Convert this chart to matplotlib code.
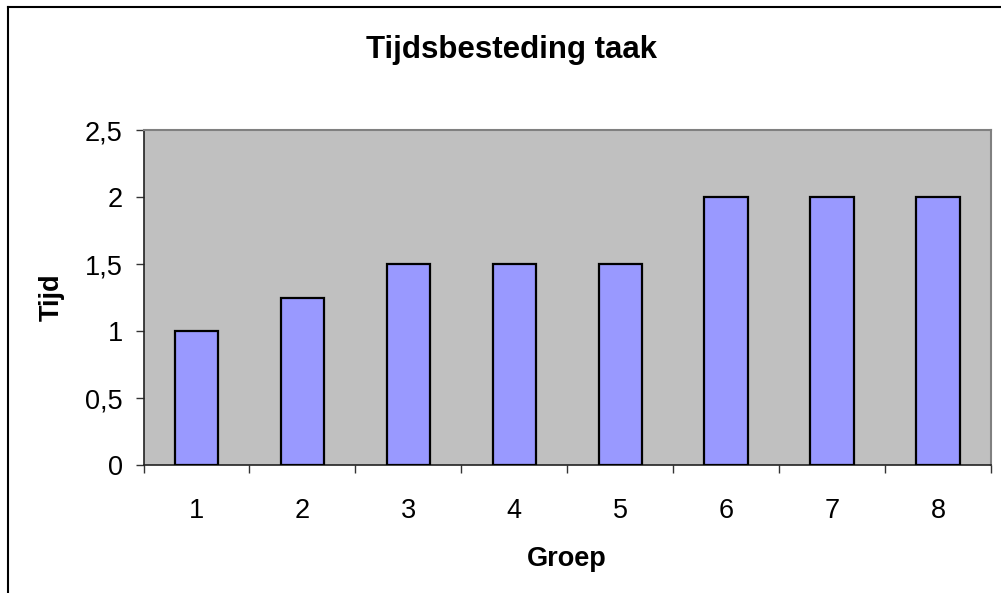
import matplotlib
matplotlib.use("Agg")
import matplotlib.pyplot as plt
from matplotlib.lines import Line2D
from matplotlib.ticker import FixedLocator, FuncFormatter

groups = ["1", "2", "3", "4", "5", "6", "7", "8"]
values = [1.0, 1.25, 1.5, 1.5, 1.5, 2.0, 2.0, 2.0]
yticks = [0, 0.5, 1, 1.5, 2, 2.5]
title = "Tijdsbesteding taak"
xlabel = "Groep"
ylabel = "Tijd"

plt.rcParams['font.family'] = ['Liberation Sans', 'DejaVu Sans']

W, H = 1001, 593
fig = plt.figure(figsize=(W / 100, H / 100), dpi=100)
ax = fig.add_axes([143.5 / W, 1 - 465 / H, (991 - 143.5) / W, (465 - 130) / H])
ax.set_facecolor('#C0C0C0')

x = list(range(1, len(groups) + 1))
ax.bar(x, values, width=0.41, color='#9999FF', edgecolor='black', linewidth=1.6, zorder=3)

ax.set_xlim(0.5, len(groups) + 0.5)
ax.set_ylim(0, 2.5)

# x: ticks at category boundaries, labels at centers
ax.xaxis.set_major_locator(FixedLocator([i + 0.5 for i in range(0, len(groups) + 1)]))
ax.xaxis.set_major_formatter(FuncFormatter(lambda v, p: ""))
ax.xaxis.set_minor_locator(FixedLocator(x))
ax.set_xticks(x, groups, minor=True)
ax.tick_params(axis='x', which='major', length=6, width=1, color='#333333', direction='out')
ax.tick_params(axis='x', which='minor', length=0, pad=24, labelsize=19.5)

ax.set_yticks(yticks)
ax.set_yticklabels([("%g" % v).replace(".", ",") for v in yticks])
ax.tick_params(axis='y', length=6, width=1, color='#333333', direction='out', pad=9, labelsize=19.5)

for s in ['top', 'right']:
    ax.spines[s].set_color('#808080')
    ax.spines[s].set_linewidth(1.5)
for s in ['left', 'bottom']:
    ax.spines[s].set_color('#222222')
    ax.spines[s].set_linewidth(1.2)

ax.set_xlabel(xlabel, fontsize=19.5, fontweight='bold')
ax.xaxis.set_label_coords(0.5, -(566 - 465) / (465 - 130), transform=ax.transAxes)
ax.xaxis.label.set_va('baseline')
ax.set_ylabel(ylabel, fontsize=19.5, fontweight='bold')
ax.yaxis.set_label_coords((52 - 143.5) / (991 - 143.5), 0.5)
ax.yaxis.label.set_va('center')

fig.text(511 / W, 1 - 58 / H, title, fontsize=22.5, fontweight='bold', ha='center', va='baseline')

# figure border (top and left visible)
fig.add_artist(Line2D([8 / W, 1.01], [1 - 7 / H, 1 - 7 / H], color='black', linewidth=1.5, transform=fig.transFigure))
fig.add_artist(Line2D([8 / W, 8 / W], [1 - 7 / H, -0.01], color='black', linewidth=1.5, transform=fig.transFigure))

fig.savefig("out.png", dpi=100)
